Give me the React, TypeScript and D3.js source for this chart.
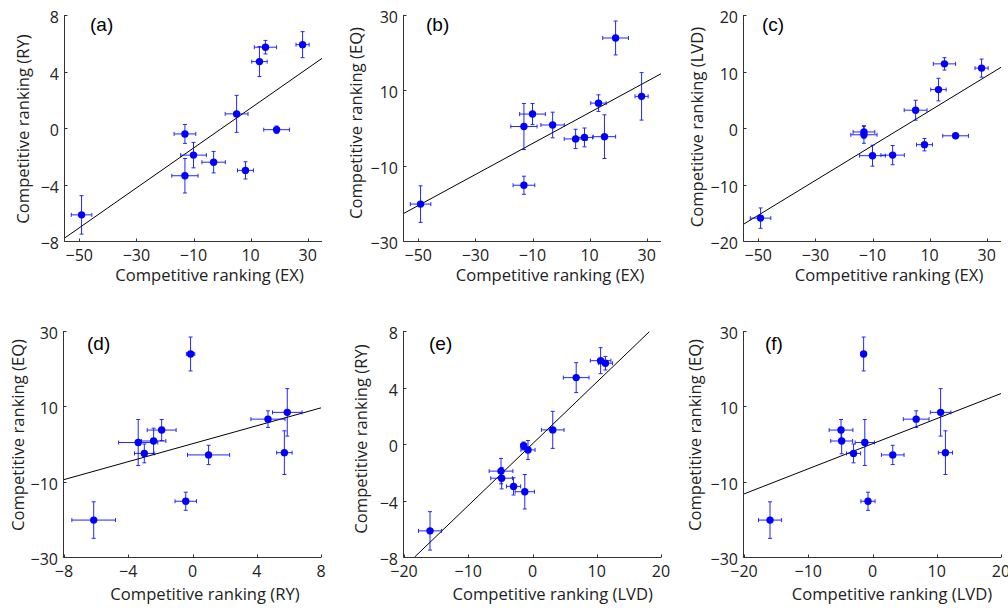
import React from 'react';
import * as d3 from 'd3';

// ---- Data: one entry per species (11) ----
const EX = [-49.2, -13.0, -13.0, -10.0, -2.95, 5.1, 8.2, 13.1, 15.2, 19.1, 28.2];
const EX_ERR = [3.6, 3.8, 4.6, 4.5, 4.1, 4.0, 2.8, 2.7, 3.9, 4.5, 2.3];
const RY = [-6.15, -0.42, -3.38, -1.92, -2.42, 1.0, -3.0, 4.7, 5.72, -0.12, 5.9];
const RY_ERR = [1.36, 0.67, 1.22, 0.9, 0.76, 1.31, 0.61, 1.06, 0.48, 0.26, 0.92];
const EQ = [-20.2, -15.2, 0.4, 3.7, 0.8, -2.9, -2.5, 6.6, -2.3, 23.9, 8.4];
const EQ_ERR = [4.85, 2.4, 6.1, 2.8, 3.4, 2.56, 2.5, 2.2, 5.8, 4.5, 6.3];
const LVD = [-15.95, -0.7, -1.2, -4.9, -4.8, 3.15, -2.95, 6.8, 11.35, -1.38, 10.6];
const LVD_ERR = [1.8, 1.1, 1.5, 1.85, 1.7, 1.76, 1.1, 2.0, 1.1, 0.4, 1.6];

// ---- Tick values ----
const TICKS_EX = [-50, -30, -10, 10, 30];
const TICKS_RY = [-8, -4, 0, 4, 8];
const TICKS_EQ = [-30, -10, 10, 30];
const TICKS_LVD_Y = [-20, -10, 0, 10, 20];
const TICKS_LVD_X = [-20, -10, 0, 10, 20];

// ---- Fitted lines (end points in data units) ----
const FIT_A = [[-55, -7.77], [35, 4.93]];
const FIT_B = [[-55, -22.64], [35, 14.4]];
const FIT_C = [[-55, -16.98], [35, 10.74]];
const FIT_D = [[-8, -9.45], [8, 9.6]];
const FIT_E = [[-18.34, -8], [18.18, 7.95]];
const FIT_F = [[-20, -13.25], [20, 13.4]];

const LABELS: Record<string, string> = {
  EX: 'Competitive ranking (EX)',
  RY: 'Competitive ranking (RY)',
  EQ: 'Competitive ranking (EQ)',
  LVD: 'Competitive ranking (LVD)',
};

const SERIES: Record<string, { v: number[]; e: number[] }> = {
  EX: { v: EX, e: EX_ERR },
  RY: { v: RY, e: RY_ERR },
  EQ: { v: EQ, e: EQ_ERR },
  LVD: { v: LVD, e: LVD_ERR },
};

const W = 257;
const H = 226;

interface Spec {
  tag: string;
  x: string;
  y: string;
  xDom: [number, number];
  yDom: [number, number];
  xTicks: number[];
  yTicks: number[];
  fit: number[][];
  left: number;
  top: number;
  xLabelCx: number;
  xLabelBase: number;
  yLabelBase: number;
  yLabelCy: number;
  tagX: number;
  tagBase: number;
}

const PANELS: Spec[] = [
  { tag: '(a)', x: 'EX', y: 'RY', xDom: [-55, 35], yDom: [-8, 8], xTicks: TICKS_EX, yTicks: TICKS_RY, fit: FIT_A,
    left: 65, top: 15, xLabelCx: 209.5, xLabelBase: 281, yLabelBase: 28.5, yLabelCy: 129, tagX: 90, tagBase: 31 },
  { tag: '(b)', x: 'EX', y: 'EQ', xDom: [-55, 35], yDom: [-30, 30], xTicks: TICKS_EX, yTicks: TICKS_EQ, fit: FIT_B,
    left: 404, top: 15, xLabelCx: 550, xLabelBase: 281, yLabelBase: 361.5, yLabelCy: 123, tagX: 426, tagBase: 31 },
  { tag: '(c)', x: 'EX', y: 'LVD', xDom: [-55, 35], yDom: [-20, 20], xTicks: TICKS_EX, yTicks: TICKS_LVD_Y, fit: FIT_C,
    left: 744, top: 15, xLabelCx: 889, xLabelBase: 281, yLabelBase: 702.5, yLabelCy: 127, tagX: 762, tagBase: 31 },
  { tag: '(d)', x: 'RY', y: 'EQ', xDom: [-8, 8], yDom: [-30, 30], xTicks: TICKS_RY, yTicks: TICKS_EQ, fit: FIT_D,
    left: 64, top: 331, xLabelCx: 205, xLabelBase: 600, yLabelBase: 23.5, yLabelCy: 435, tagX: 87, tagBase: 350 },
  { tag: '(e)', x: 'LVD', y: 'RY', xDom: [-20, 20], yDom: [-8, 8], xTicks: TICKS_LVD_X, yTicks: TICKS_RY, fit: FIT_E,
    left: 404, top: 331, xLabelCx: 552.7, xLabelBase: 600, yLabelBase: 366.5, yLabelCy: 439, tagX: 429, tagBase: 350 },
  { tag: '(f)', x: 'LVD', y: 'EQ', xDom: [-20, 20], yDom: [-30, 30], xTicks: TICKS_LVD_X, yTicks: TICKS_EQ, fit: FIT_F,
    left: 744, top: 331, xLabelCx: 892, xLabelBase: 600, yLabelBase: 700.5, yLabelCy: 435, tagX: 765, tagBase: 350 },
];

const BLUE = '#0000ff';
const AXIS = '#333';
const TEXT = '#222';
const fmt = d3.format('d');

function Panel({ p }: { p: Spec }) {
  const xs = d3.scaleLinear().domain(p.xDom).range([p.left, p.left + W]);
  const ys = d3.scaleLinear().domain(p.yDom).range([p.top + H, p.top]);
  const xv = SERIES[p.x];
  const yv = SERIES[p.y];
  const bottom = p.top + H;
  const ax = Math.round(p.left) - 0.5;
  const ay = Math.round(bottom) + 0.5;
  const fitPath = d3.line()(p.fit.map(([a, b]) => [xs(a), ys(b)] as [number, number])) || '';
  const cap = 2;
  const tick = 3;

  return (
    <g>
      {/* fit line */}
      <path d={fitPath} stroke="#000" strokeWidth={1} fill="none" />
      {/* error bars */}
      {xv.v.map((xval, i) => {
        const cx = xs(xval);
        const cy = ys(yv.v[i]);
        const x0 = xs(xval - xv.e[i]);
        const x1 = xs(xval + xv.e[i]);
        const y0 = ys(yv.v[i] - yv.e[i]);
        const y1 = ys(yv.v[i] + yv.e[i]);
        return (
          <g key={'e' + i} stroke={BLUE} strokeWidth={1} fill="none" opacity={0.85}>
            <line x1={x0} x2={x1} y1={cy} y2={cy} />
            <line x1={x0} x2={x0} y1={cy - cap} y2={cy + cap} />
            <line x1={x1} x2={x1} y1={cy - cap} y2={cy + cap} />
            <line x1={cx} x2={cx} y1={y0} y2={y1} />
            <line x1={cx - cap} x2={cx + cap} y1={y0} y2={y0} />
            <line x1={cx - cap} x2={cx + cap} y1={y1} y2={y1} />
          </g>
        );
      })}
      {/* markers */}
      {xv.v.map((xval, i) => (
        <circle key={'m' + i} cx={xs(xval)} cy={ys(yv.v[i])} r={3.7} fill={BLUE} />
      ))}
      {/* axes */}
      <line x1={ax} x2={ax} y1={p.top} y2={ay} stroke={AXIS} strokeWidth={1} />
      <line x1={ax} x2={p.left + W} y1={ay} y2={ay} stroke={AXIS} strokeWidth={1} />
      {p.xTicks.map((t) => {
        const x = Math.round(xs(t)) + 0.5;
        return (
          <g key={'xt' + t}>
            <line x1={x} x2={x} y1={ay} y2={ay - tick} stroke={AXIS} strokeWidth={1} />
            <text x={xs(t)} y={bottom + 20} textAnchor="middle" fontSize={16} fill={TEXT}>{fmt(t)}</text>
          </g>
        );
      })}
      {p.yTicks.map((t) => {
        const y = Math.round(ys(t)) + 0.5;
        return (
          <g key={'yt' + t}>
            <line x1={ax} x2={ax + tick} y1={y} y2={y} stroke={AXIS} strokeWidth={1} />
            <text x={p.left - 6} y={ys(t) + 8} textAnchor="end" fontSize={16} fill={TEXT}>{fmt(t)}</text>
          </g>
        );
      })}
      {/* labels */}
      <text x={p.xLabelCx} y={p.xLabelBase} textAnchor="middle" fontSize={16.6} fill={TEXT}>{LABELS[p.x]}</text>
      <text transform={`translate(${p.yLabelBase},${p.yLabelCy}) rotate(-90)`} textAnchor="middle" fontSize={16.6} fill={TEXT}>
        {LABELS[p.y]}
      </text>
      <text x={p.tagX} y={p.tagBase} fontSize={19} fill="#000" fontFamily="'Liberation Sans', Arial, sans-serif">{p.tag}</text>
    </g>
  );
}

export default function App() {
  return (
    <svg
      width={1008}
      height={608}
      style={{ position: 'absolute', left: 0, top: 0, background: '#fff' }}
      fontFamily="'Open Sans', sans-serif"
    >
      <rect x={0} y={0} width={1008} height={608} fill="#fff" />
      {PANELS.map((p) => (
        <Panel key={p.tag} p={p} />
      ))}
    </svg>
  );
}
